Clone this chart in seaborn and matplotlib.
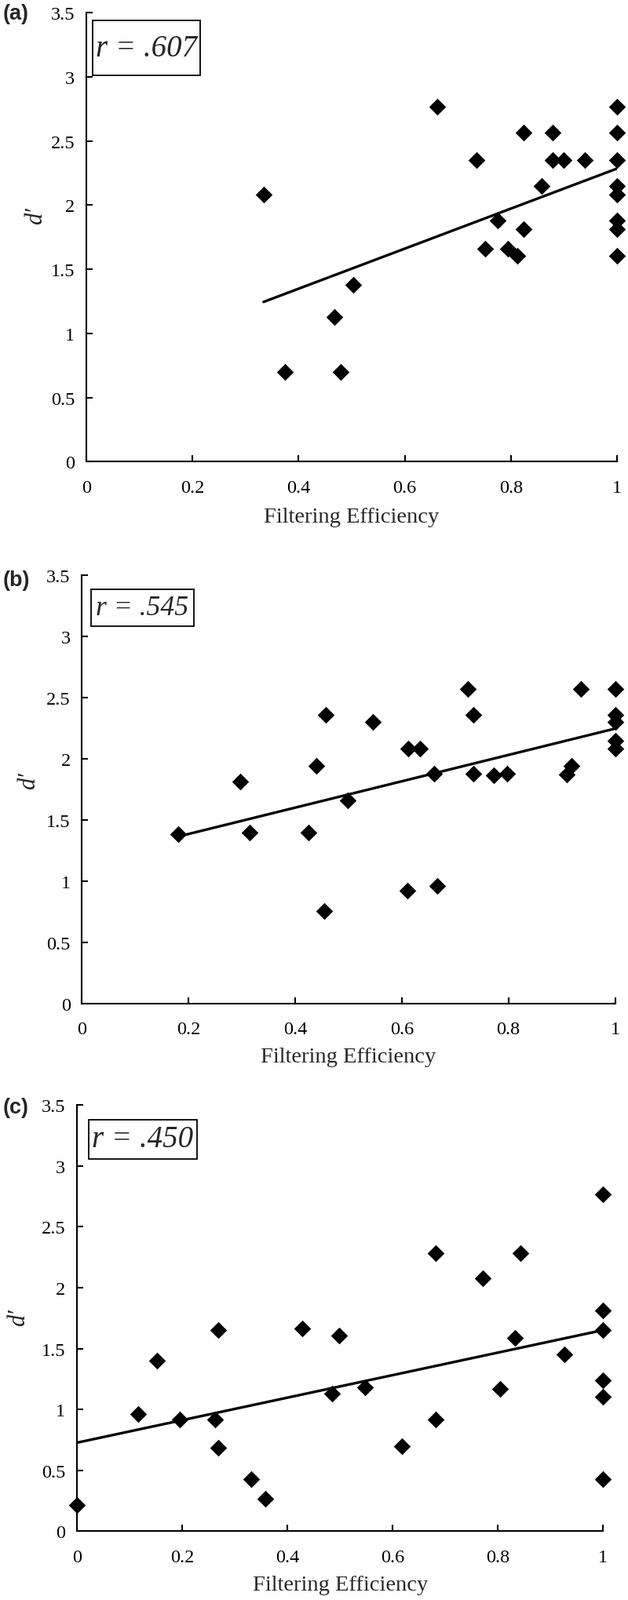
import numpy as np
import pandas as pd
import matplotlib.pyplot as plt
import matplotlib.patches as patches
import seaborn as sns

# ── DATA ─────────────────────────────────────────────────────
a_eff = [0.334, 0.374, 0.467, 0.480, 0.503, 0.661, 0.735, 0.752, 0.775, 0.795,
         0.812, 0.824, 0.824, 0.858, 0.878, 0.878, 0.899, 0.940,
         1.0, 1.0, 1.0, 1.0, 1.0, 1.0, 1.0, 1.0]
a_dprime = [2.083, 0.702, 1.126, 0.702, 1.380, 2.768, 2.349, 1.659, 1.877, 1.659,
            1.603, 2.567, 1.812, 2.148, 2.567, 2.349, 2.349, 2.349,
            2.768, 2.567, 2.349, 2.148, 2.083, 1.877, 1.812, 1.603]

b_eff = [0.181, 0.297, 0.314, 0.425, 0.440, 0.457, 0.455, 0.499, 0.546, 0.612,
         0.634, 0.610, 0.666, 0.660, 0.724, 0.734, 0.734, 0.773, 0.798, 0.910,
         0.919, 0.936, 1.0, 1.0, 1.0, 1.0, 1.0]
b_dprime = [1.381, 1.814, 1.394, 1.394, 1.940, 2.357, 0.756, 1.661, 2.299, 2.081,
            2.081, 0.921, 0.961, 1.879, 2.570, 2.357, 1.879, 1.866, 1.879, 1.874,
            1.945, 2.570, 2.570, 2.357, 2.299, 2.147, 2.081]

c_eff = [0.0, 0.117, 0.152, 0.196, 0.263, 0.268, 0.268, 0.331, 0.358, 0.428,
         0.485, 0.499, 0.548, 0.617, 0.682, 0.682, 0.772, 0.804, 0.832, 0.843,
         0.927, 1.0, 1.0, 1.0, 1.0, 1.0, 1.0]
c_dprime = [0.213, 0.964, 1.402, 0.914, 0.914, 1.653, 0.687, 0.427, 0.266, 1.665,
            1.128, 1.610, 1.183, 0.701, 2.282, 0.914, 2.077, 1.169, 1.586, 2.282,
            1.449, 2.764, 1.814, 1.653, 1.242, 1.104, 0.427]

panel_tags = ["(a)", "(b)", "(c)"]
r_labels = ["r = .607", "r = .545", "r = .450"]
x_ticks = [0, 0.2, 0.4, 0.6, 0.8, 1.0]
x_tick_labels = ["0", "0.2", "0.4", "0.6", "0.8", "1"]
y_ticks = [0, 0.5, 1.0, 1.5, 2.0, 2.5, 3.0, 3.5]
y_tick_labels = ["0", "0.5", "1", "1.5", "2", "2.5", "3", "3.5"]

# ── LAYOUT (pixels on the 800 x 2040 canvas) ─────────────────
W, H = 800, 2040
AX_PX  = [(110, 17, 786, 589.3), (104.3, 734.3, 783.5, 1279.5), (98, 1409.3, 768.3, 1952.3)]
BOX_PX = [(118, 27, 255, 97), (116, 752, 247, 799), (112.7, 1427.7, 250.7, 1477.7)]
TAG_PX = [(4, 18), (4, 740), (4, 1412)]
R_SIZE = [28, 25.7, 28]
YLAB_PX = [(60, 275), (51, 995), (38, 1679)]   # right edge / centre of d' label
XLAB_TOP = [647, 1335, 2008]

sns.set_style("ticks")
plt.rcParams["font.family"] = ["Liberation Serif", "DejaVu Serif"]

fig = plt.figure(figsize=(W / 100, H / 100), dpi=100)

panels = [(a_eff, a_dprime), (b_eff, b_dprime), (c_eff, c_dprime)]

for i, (eff, dp) in enumerate(panels):
    l, t, r, b = AX_PX[i]
    ax = fig.add_axes([l / W, 1 - b / H, (r - l) / W, (b - t) / H])
    df = pd.DataFrame({"eff": eff, "dprime": dp})

    sns.regplot(data=df, x="eff", y="dprime", ax=ax, ci=None, truncate=True,
                marker="D",
                scatter_kws={"s": 120, "color": "black", "alpha": 1,
                             "linewidths": 0, "clip_on": False, "zorder": 3},
                line_kws={"color": "black", "lw": 2.4, "zorder": 4})

    ax.set_xlim(0, 1)
    ax.set_ylim(0, 3.5)
    ax.set_xticks(x_ticks)
    ax.set_xticklabels(x_tick_labels)
    ax.set_yticks(y_ticks)
    ax.set_yticklabels(y_tick_labels)
    sns.despine(ax=ax)
    for sp in ["left", "bottom"]:
        ax.spines[sp].set_linewidth(1.5)
        ax.spines[sp].set_color("black")
    ax.tick_params(axis="both", direction="in", length=6, width=1.5,
                   colors="black", labelsize=17.5)
    ax.tick_params(axis="x", pad=16)
    ax.tick_params(axis="y", pad=10.5)

    ax.set_xlabel("Filtering Efficiency", fontsize=20.5)
    ax.xaxis.set_label_coords(0.5, (b - XLAB_TOP[i]) / (b - t))
    ax.set_ylabel("d\u2032", fontsize=22, style="italic")
    yx, yy = YLAB_PX[i]
    ax.yaxis.set_label_coords((yx - l) / (r - l), (b - yy) / (b - t))

    # boxed correlation label
    bl, bt, br, bb = BOX_PX[i]
    fig.patches.append(patches.Rectangle((bl / W, 1 - bb / H), (br - bl) / W, (bb - bt) / H,
                                         transform=fig.transFigure, fill=False,
                                         edgecolor="black", lw=1.3))
    fig.text((bl + br) / 2 / W, 1 - (bt + bb) / 2 / H, r_labels[i],
             ha="center", va="center", fontsize=R_SIZE[i], style="italic")

    tx, ty = TAG_PX[i]
    fig.text(tx / W, 1 - ty / H, panel_tags[i], ha="left", va="center",
             fontsize=19.5, fontweight="bold", family="Liberation Sans")

fig.savefig("out.png", dpi=100)
